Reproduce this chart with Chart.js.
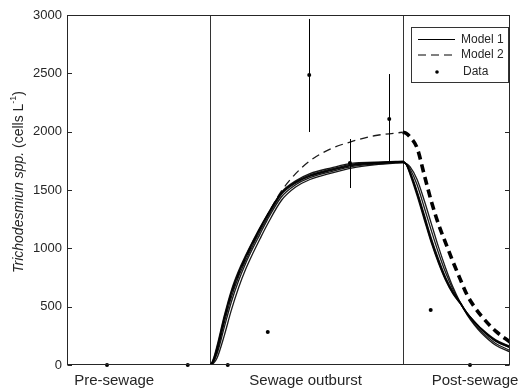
<!DOCTYPE html>
<html>
<head>
<meta charset="utf-8">
<script src="https://cdn.jsdelivr.net/npm/chart.js@4.4.1/dist/chart.umd.min.js"></script>
<style>
  body { margin: 0; background: #fff; }
  #chart { display: block; }
</style>
</head>
<body>
<canvas id="chart" width="520" height="391"></canvas>
<script>
// time axis (days), shared by all model runs
const timeDays = [0, 20, 20.5, 21, 22, 23, 24, 25, 26, 27, 28, 30, 32, 34, 37, 40, 43, 46, 47,
  47.5, 48, 49, 50, 51, 52, 53, 54, 55, 56, 57, 58, 60, 62];

// Model 1 ensemble runs (cells per litre)
const model1RunA = [0, 0, 40, 130, 390, 610, 780, 920, 1045, 1165, 1275, 1470, 1565, 1622, 1672, 1715, 1730, 1740, 1742,
  1722, 1660, 1490, 1290, 1085, 907, 750, 630, 540, 445, 370, 305, 205, 150];
const model1RunB = [0, 0, 55, 165, 420, 640, 805, 940, 1062, 1178, 1285, 1480, 1578, 1640, 1690, 1730, 1738, 1745, 1747,
  1717, 1645, 1465, 1260, 1055, 880, 730, 615, 530, 440, 368, 305, 205, 148];
const model1RunC = [0, 0, 15, 60, 250, 470, 660, 820, 955, 1080, 1200, 1410, 1525, 1590, 1645, 1690, 1715, 1730, 1733,
  1726, 1700, 1590, 1410, 1210, 1010, 830, 670, 540, 430, 345, 275, 170, 112];
const model1RunD = [0, 0, 25, 95, 320, 540, 720, 870, 1000, 1120, 1240, 1440, 1545, 1606, 1658, 1702, 1722, 1735, 1737,
  1723, 1682, 1545, 1350, 1150, 960, 790, 650, 535, 435, 355, 288, 185, 125];
const model1RunE = [0, 0, 35, 115, 360, 580, 755, 895, 1025, 1145, 1258, 1460, 1558, 1618, 1668, 1711, 1728, 1738, 1740,
  1718, 1652, 1478, 1275, 1070, 895, 742, 625, 538, 445, 372, 308, 210, 155];
const model1RunF = [0, 0, 48, 150, 405, 625, 792, 930, 1055, 1172, 1280, 1475, 1570, 1630, 1680, 1722, 1734, 1742, 1744,
  1714, 1635, 1450, 1245, 1045, 872, 725, 612, 530, 445, 375, 312, 215, 160];

// Model 2
const model2Run = [0, 0, 40, 135, 385, 605, 775, 915, 1042, 1165, 1280, 1490, 1640, 1750, 1855, 1918, 1965, 1988, 1995,
  1985, 1955, 1860, 1630, 1400, 1205, 1045, 888, 740, 600, 500, 420, 290, 197];

// observations
const obsDays = [5.6, 16.9, 22.5, 28.1, 33.9, 39.6, 45.1, 50.9, 56.4];
const obsCells = [0, 0, 0, 283, 2486, 1731, 2109, 471, 0];
const obsLow = [null, null, null, null, 1997, 1517, 1731, null, null];
const obsHigh = [null, null, null, null, 2966, 1937, 2494, null, null];

// phase boundaries and labels
const phaseBounds = [20, 47];
const phaseLabelPos = [6.6, 33.4, 57.1];
const phaseLabels = ['Pre-sewage', 'Sewage outburst', 'Post-sewage'];
const yTicks = [0, 500, 1000, 1500, 2000, 2500, 3000];

const ink = '#262626';
const fontFamily = '"Liberation Sans", Arial, sans-serif';

function toPoints(ts, ys) {
  return ts.map((t, i) => ({ x: t, y: ys[i] }));
}

const model1Runs = [model1RunC, model1RunD, model1RunE, model1RunA, model1RunF, model1RunB];
const datasets = model1Runs.map((run, i) => ({
  label: i === 0 ? 'Model 1' : '',
  data: toPoints(timeDays, run),
  borderColor: 'rgba(0,0,0,0.9)',
  borderWidth: 1.3,
  pointRadius: 0,
  cubicInterpolationMode: 'monotone',
  fill: false
}));

const splitAt = timeDays.indexOf(phaseBounds[1]);
datasets.push({
  label: 'Model 2',
  data: toPoints(timeDays.slice(0, splitAt + 1), model2Run.slice(0, splitAt + 1)),
  borderColor: '#1a1a1a',
  borderWidth: 1.3,
  borderDash: [8, 5],
  pointRadius: 0,
  cubicInterpolationMode: 'monotone',
  fill: false
});
datasets.push({
  label: '',
  data: toPoints(timeDays.slice(splitAt), model2Run.slice(splitAt)),
  borderColor: '#000',
  borderWidth: 3.6,
  borderDash: [8, 5],
  pointRadius: 0,
  cubicInterpolationMode: 'monotone',
  fill: false
});
datasets.push({
  label: 'Data',
  type: 'scatter',
  data: toPoints(obsDays, obsCells),
  showLine: false,
  pointRadius: 2,
  pointBackgroundColor: '#000',
  pointBorderWidth: 0,
  clip: false
});

// frame, inward ticks, phase lines, error bars, legend, axis texts
const decorPlugin = {
  id: 'decor',
  beforeDatasetsDraw(chart) {
    const { ctx, chartArea: a, scales } = chart;
    ctx.save();
    ctx.strokeStyle = '#333';
    ctx.lineWidth = 1;
    phaseBounds.forEach(b => {
      const px = Math.round(scales.x.getPixelForValue(b)) + 0.5;
      ctx.beginPath();
      ctx.moveTo(px, a.top);
      ctx.lineTo(px, a.bottom);
      ctx.stroke();
    });
    ctx.restore();
  },
  afterDatasetsDraw(chart) {
    const { ctx, chartArea: a, scales } = chart;
    ctx.save();
    // error bars
    ctx.strokeStyle = '#000';
    ctx.lineWidth = 1;
    obsDays.forEach((t, i) => {
      if (obsLow[i] === null) return;
      const px = Math.round(scales.x.getPixelForValue(t)) + 0.5;
      ctx.beginPath();
      ctx.moveTo(px, scales.y.getPixelForValue(obsLow[i]));
      ctx.lineTo(px, scales.y.getPixelForValue(obsHigh[i]));
      ctx.stroke();
    });
    // frame
    ctx.strokeStyle = ink;
    const l = Math.round(a.left) + 0.5, r = Math.round(a.right) - 0.5;
    const t = Math.round(a.top) + 0.5, b = Math.round(a.bottom) - 0.5;
    ctx.strokeRect(l, t, r - l, b - t);
    // inward y ticks on both sides
    yTicks.forEach(v => {
      const py = Math.round(scales.y.getPixelForValue(v)) + 0.5;
      ctx.beginPath();
      ctx.moveTo(l, py); ctx.lineTo(l + 4.5, py);
      ctx.moveTo(r, py); ctx.lineTo(r - 4.5, py);
      ctx.stroke();
    });
    // phase labels under the x axis
    ctx.fillStyle = ink;
    ctx.font = '15px ' + fontFamily;
    ctx.textAlign = 'center';
    ctx.textBaseline = 'middle';
    phaseLabelPos.forEach((v, i) => {
      ctx.fillText(phaseLabels[i], scales.x.getPixelForValue(v), a.bottom + 16);
    });
    // legend box
    const bx = 411.5, by = 27.5, bw = 97, bh = 55;
    ctx.fillStyle = '#fff';
    ctx.fillRect(bx, by, bw, bh);
    ctx.strokeStyle = '#333';
    ctx.strokeRect(bx, by, bw, bh);
    const rows = [39.5, 55, 72];
    ctx.strokeStyle = '#000';
    ctx.lineWidth = 1;
    ctx.beginPath();
    ctx.moveTo(418, rows[0]); ctx.lineTo(455, rows[0]);
    ctx.stroke();
    ctx.setLineDash([8, 5]);
    ctx.beginPath();
    ctx.moveTo(418, rows[1]); ctx.lineTo(455, rows[1]);
    ctx.stroke();
    ctx.setLineDash([]);
    ctx.fillStyle = '#000';
    ctx.beginPath();
    ctx.arc(437, rows[2], 1.8, 0, Math.PI * 2);
    ctx.fill();
    ctx.fillStyle = ink;
    ctx.font = '12px ' + fontFamily;
    ctx.textAlign = 'left';
    ['Model 1', 'Model 2', 'Data'].forEach((txt, i) => {
      ctx.fillText(txt, i === 2 ? 463 : 461, rows[i]);
    });
    // y axis title
    ctx.translate(19, 182);
    ctx.rotate(-Math.PI / 2);
    const parts = [
      { s: 'Trichodesmiun spp.', f: 'italic 14px ' + fontFamily, dy: 0 },
      { s: ' (cells L', f: '14px ' + fontFamily, dy: 0 },
      { s: '-1', f: '9px ' + fontFamily, dy: -5 },
      { s: ')', f: '14px ' + fontFamily, dy: 0 }
    ];
    let total = 0;
    parts.forEach(p => { ctx.font = p.f; p.w = ctx.measureText(p.s).width; total += p.w; });
    let x = -total / 2;
    parts.forEach(p => {
      ctx.font = p.f;
      ctx.fillText(p.s, x, p.dy);
      x += p.w;
    });
    ctx.restore();
  }
};

new Chart(document.getElementById('chart'), {
  type: 'line',
  data: { datasets: datasets },
  options: {
    responsive: false,
    animation: false,
    layout: { padding: { top: 15, right: 10, left: 0, bottom: 0 } },
    plugins: { legend: { display: false }, tooltip: { enabled: false } },
    scales: {
      x: {
        type: 'linear',
        min: 0,
        max: 62,
        grid: { display: false, drawTicks: false },
        border: { display: false },
        ticks: { display: false },
        afterFit: scale => { scale.height = 26; }
      },
      y: {
        min: 0,
        max: 3000,
        grid: { display: false, drawTicks: false },
        border: { display: false },
        afterBuildTicks: scale => { scale.ticks = yTicks.map(v => ({ value: v })); },
        afterFit: scale => { scale.width = 67; },
        ticks: {
          padding: 5,
          color: ink,
          font: { family: fontFamily, size: 13 },
          callback: v => String(v)
        }
      }
    }
  },
  plugins: [decorPlugin]
});
</script>
</body>
</html>
